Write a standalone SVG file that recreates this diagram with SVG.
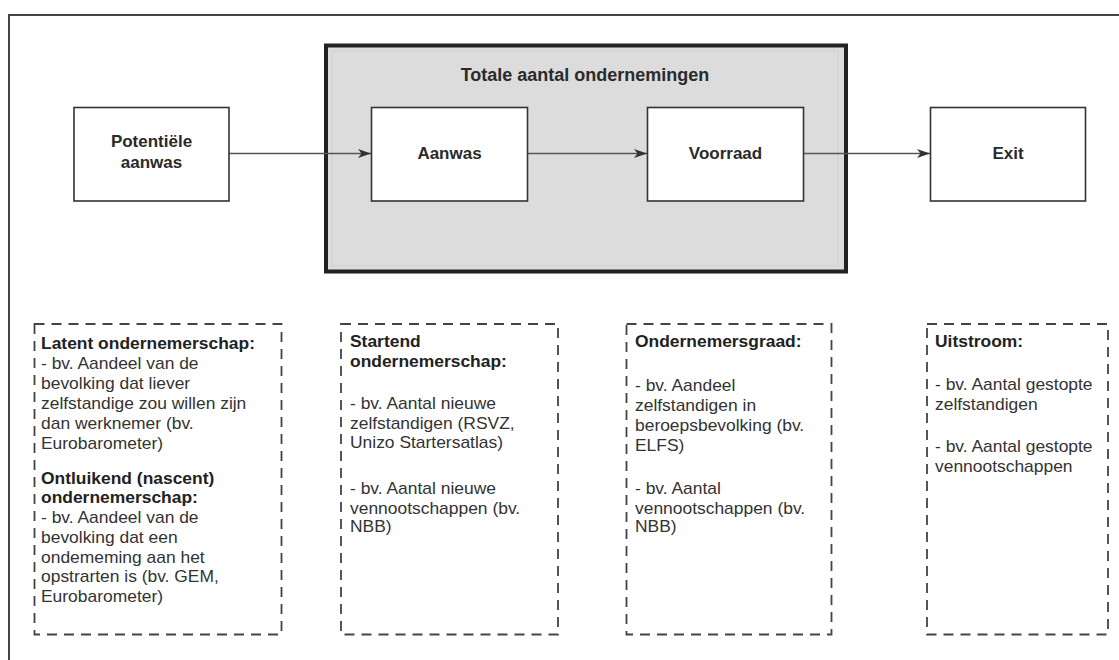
<svg xmlns="http://www.w3.org/2000/svg" width="1119" height="660" viewBox="0 0 1119 660">
<defs>
<marker id="arr" markerWidth="14" markerHeight="10" refX="13" refY="5" orient="auto" markerUnits="userSpaceOnUse">
<path d="M0,0.5 L13,5 L0,9.5 L3.5,5 Z" fill="#333"/>
</marker>
<style>
.node{fill:#fff;stroke:#333;stroke-width:1.6}
.lbl{font-family:"Liberation Sans",Arial,sans-serif;font-weight:bold;font-size:17px;fill:#2a2a2a;text-anchor:middle}
.dash{fill:none;stroke:#444;stroke-width:1.8;stroke-dasharray:10 7}
.t{font-family:"Liberation Sans",Arial,sans-serif;font-size:16px;fill:#333}
.b{font-weight:bold;fill:#222}
.conn{stroke:#555;stroke-width:1.4;fill:none}
</style>
</defs>
<rect x="0" y="0" width="1119" height="660" fill="#fff"/>
<rect x="9" y="15" width="1130" height="670" fill="none" stroke="#444" stroke-width="2"/>

<g id="group-totaal">
<rect x="326" y="45.5" width="520" height="226" fill="#dcdcdc" stroke="#222" stroke-width="4"/>
<rect x="332" y="51" width="506" height="215" fill="none" stroke="#d0d0d0" stroke-width="1"/>
<text class="lbl" x="585" y="81" style="font-size:18px">Totale aantal ondernemingen</text>
</g>

<g id="connectors">
<line class="conn" x1="229" y1="153.5" x2="371" y2="153.5" marker-end="url(#arr)"/>
<line class="conn" x1="527.5" y1="153.5" x2="647" y2="153.5" marker-end="url(#arr)"/>
<line class="conn" x1="804" y1="153.5" x2="930" y2="153.5" marker-end="url(#arr)"/>
</g>

<g id="node-potentiele">
<rect class="node" x="74" y="107.5" width="155" height="93.5"/>
<text class="lbl" x="151.5" y="147">Potentiële</text>
<text class="lbl" x="151.5" y="168">aanwas</text>
</g>
<g id="node-aanwas">
<rect class="node" x="371.5" y="107.5" width="156" height="93.5"/>
<text class="lbl" x="449.5" y="159">Aanwas</text>
</g>
<g id="node-voorraad">
<rect class="node" x="647.5" y="107.5" width="156" height="93.5"/>
<text class="lbl" x="725.5" y="159">Voorraad</text>
</g>
<g id="node-exit">
<rect class="node" x="930.5" y="107.5" width="155" height="93.5"/>
<text class="lbl" x="1008" y="159">Exit</text>
</g>

<g id="box-latent">
<rect class="dash" x="34.5" y="324" width="247" height="310.5"/>
<g class="t" transform="translate(41 0) scale(1.09 1)">
<text class="t b" x="0" y="349">Latent ondernemerschap:</text>
<text class="t" x="0" y="369">- bv. Aandeel van de</text>
<text class="t" x="0" y="389">bevolking dat liever</text>
<text class="t" x="0" y="409">zelfstandige zou willen zijn</text>
<text class="t" x="0" y="429">dan werknemer (bv.</text>
<text class="t" x="0" y="449">Eurobarometer)</text>
<text class="t b" x="0" y="484">Ontluikend (nascent)</text>
<text class="t b" x="0" y="503">ondernemerschap:</text>
<text class="t" x="0" y="523">- bv. Aandeel van de</text>
<text class="t" x="0" y="543">bevolking dat een</text>
<text class="t" x="0" y="563">ondememing aan het</text>
<text class="t" x="0" y="582">opstrarten is (bv. GEM,</text>
<text class="t" x="0" y="602">Eurobarometer)</text>
</g>
</g>

<g id="box-startend">
<rect class="dash" x="341" y="324" width="217" height="310.5"/>
<g class="t" transform="translate(350 0) scale(1.09 1)">
<text class="t b" x="0" y="347">Startend</text>
<text class="t b" x="0" y="367">ondernemerschap:</text>
<text class="t" x="0" y="409">- bv. Aantal nieuwe</text>
<text class="t" x="0" y="429">zelfstandigen (RSVZ,</text>
<text class="t" x="0" y="448">Unizo Startersatlas)</text>
<text class="t" x="0" y="494">- bv. Aantal nieuwe</text>
<text class="t" x="0" y="514">vennootschappen (bv.</text>
<text class="t" x="0" y="532">NBB)</text>
</g>
</g>

<g id="box-graad">
<rect class="dash" x="626.5" y="324" width="205" height="310.5"/>
<g class="t" transform="translate(635 0) scale(1.09 1)">
<text class="t b" x="0" y="347">Ondernemersgraad:</text>
<text class="t" x="0" y="391">- bv. Aandeel</text>
<text class="t" x="0" y="411">zelfstandigen in</text>
<text class="t" x="0" y="431">beroepsbevolking (bv.</text>
<text class="t" x="0" y="451">ELFS)</text>
<text class="t" x="0" y="494">- bv. Aantal</text>
<text class="t" x="0" y="514">vennootschappen (bv.</text>
<text class="t" x="0" y="532">NBB)</text>
</g>
</g>

<g id="box-uitstroom">
<rect class="dash" x="927" y="324" width="181" height="310.5"/>
<g class="t" transform="translate(935 0) scale(1.09 1)">
<text class="t b" x="0" y="347">Uitstroom:</text>
<text class="t" x="0" y="390">- bv. Aantal gestopte</text>
<text class="t" x="0" y="410">zelfstandigen</text>
<text class="t" x="0" y="452">- bv. Aantal gestopte</text>
<text class="t" x="0" y="472">vennootschappen</text>
</g>
</g>
</svg>
